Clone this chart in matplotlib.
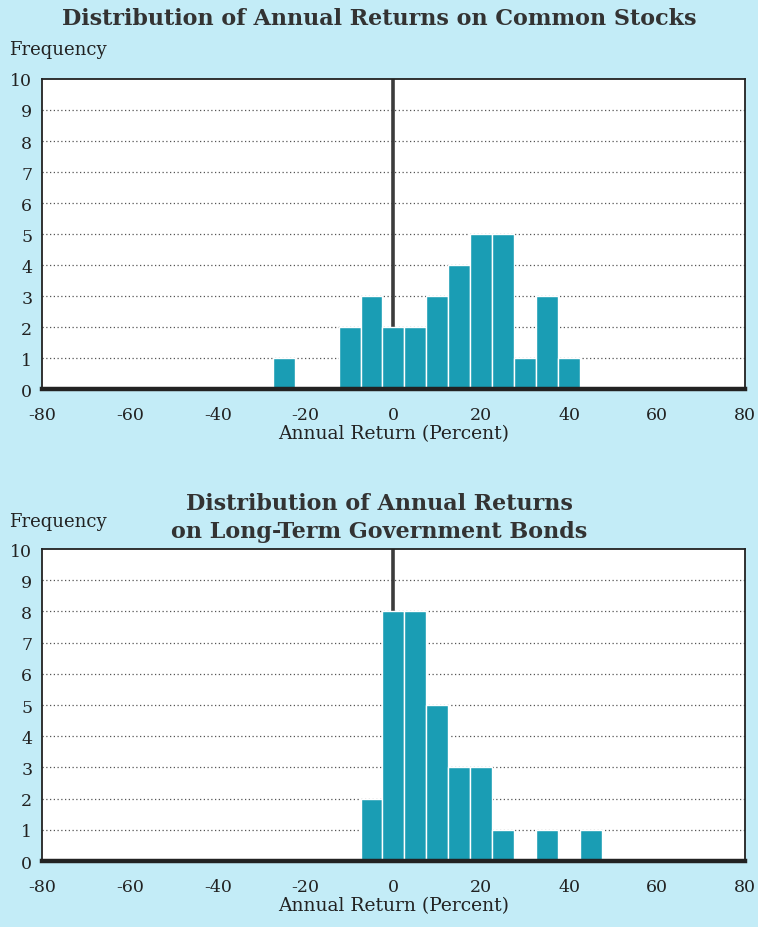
import numpy as np
import matplotlib
matplotlib.use('Agg')
import matplotlib.pyplot as plt

plt.rcParams['font.family'] = ['DejaVu Serif']
plt.rcParams['axes.unicode_minus'] = False

# 普通株の年間リターン分布 (階級の中心, 度数)
stock_bins = [-25, -10, -5, 0, 5, 10, 15, 20, 25, 30, 35, 40]
stock_freq = [1, 2, 3, 2, 2, 3, 4, 5, 5, 1, 3, 1]

# 長期国債の年間リターン分布
bond_bins = [-5, 0, 5, 10, 15, 20, 25, 35, 45]
bond_freq = [2, 8, 8, 5, 3, 3, 1, 1, 1]

x_ticks = [-80, -60, -40, -20, 0, 20, 40, 60, 80]
y_ticks = list(range(0, 11))

bg = '#c3ecf7'
bar_color = '#1a9db4'
title_color = '#333333'

fig = plt.figure(figsize=(7.58, 9.28), dpi=100)
fig.patch.set_facecolor(bg)


def draw_hist(ax, bins, freq):
    ax.set_facecolor('white')
    ax.set_xlim(-80, 80)
    ax.set_ylim(0, 10)
    for y in y_ticks[1:-1]:
        ax.axhline(y, color='#555555', lw=0.9, ls=(0, (1, 2)), zorder=1)
    ax.bar(bins, freq, width=5, color=bar_color, edgecolor='white',
           linewidth=1.0, zorder=3)
    ax.axvline(0, color='#3c3c3c', lw=2.6, zorder=2)
    for side in ['left', 'right', 'top']:
        ax.spines[side].set_linewidth(1.3)
        ax.spines[side].set_color('#222222')
    ax.spines['bottom'].set_linewidth(3.2)
    ax.spines['bottom'].set_color('#222222')
    ax.spines['bottom'].set_zorder(4)
    ax.set_xticks(x_ticks)
    ax.set_yticks(y_ticks)
    ax.tick_params(length=0, labelsize=12.5, colors='#222222', pad=7)
    ax.tick_params(axis='x', pad=12)
    ax.set_xlabel('Annual Return (Percent)', fontsize=13.5, color='#222222',
                  labelpad=1)


ax1 = fig.add_axes([0.0554, 0.5797, 0.9274, 0.3341])
draw_hist(ax1, stock_bins, stock_freq)

ax2 = fig.add_axes([0.0554, 0.0711, 0.9274, 0.3362])
draw_hist(ax2, bond_bins, bond_freq)

fig.text(0.5, 0.980, 'Distribution of Annual Returns on Common Stocks',
         ha='center', va='center', fontsize=16, fontweight='bold',
         color=title_color)
fig.text(0.012, 0.946, 'Frequency', ha='left', va='center', fontsize=13,
         color='#222222')

fig.text(0.5, 0.442, 'Distribution of Annual Returns\non Long-Term Government Bonds',
         ha='center', va='center', fontsize=16, fontweight='bold',
         color=title_color, linespacing=1.35)
fig.text(0.012, 0.4375, 'Frequency', ha='left', va='center', fontsize=13,
         color='#222222')

fig.savefig('out.png', dpi=100, facecolor=bg)
